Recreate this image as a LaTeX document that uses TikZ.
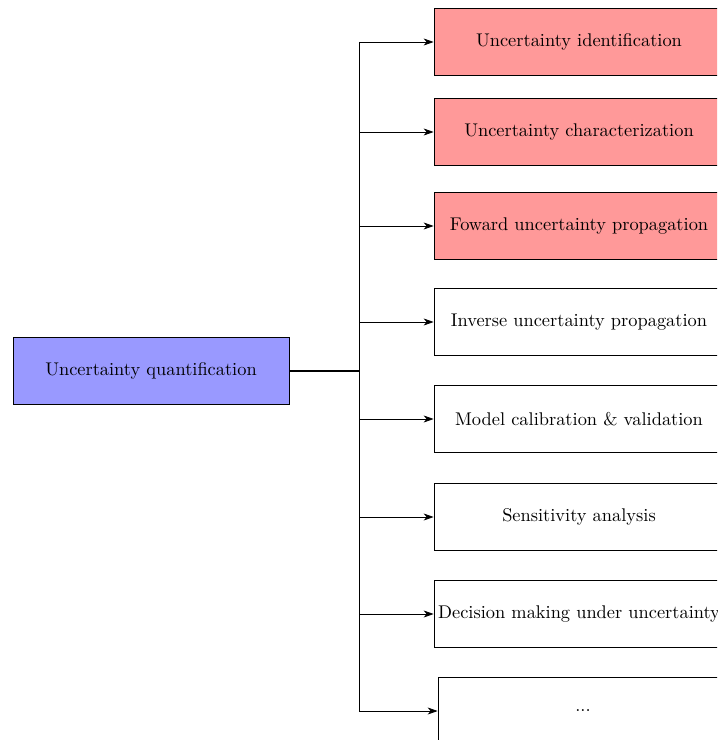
\documentclass[tikz,border=0pt]{standalone}
\usetikzlibrary{arrows.meta}
\begin{document}
\begin{tikzpicture}[x=0.544pt, y=-0.544pt, >={Stealth[length=5.4pt, width=3.8pt, inset=1.6pt]},
  box/.style={draw, minimum height=36.4pt, minimum width=157.8pt, inner sep=2pt}]
  \useasboundingbox (0,0) rectangle (717,740);
  \clip (0,0) rectangle (717,740);
  \node[box, fill=blue!40, minimum width=150.1pt] (uq) at (151,371) {Uncertainty quantification};
  \coordinate (split) at (359,371);
  \foreach \i/\y/\c/\t in {1/42/red!40/Uncertainty identification,
      2/132/red!40/Uncertainty characterization,
      3/226/red!40/Foward uncertainty propagation,
      4/322/white/Inverse uncertainty propagation,
      5/419/white/Model calibration \& validation,
      6/517/white/Sensitivity analysis,
      7/614/white/Decision making under uncertainty}
    \node[box, fill=\c] (c\i) at (579,\y) {\t};
  \node[box] (c8) at (583,711) {...};
  \draw[thick] (uq.east) -- (split);
  \draw (split |- c1) -- (split |- c8);
  \foreach \i in {1,...,8} \draw[->] (split |- c\i) -- (c\i.west);
\end{tikzpicture}
\end{document}
